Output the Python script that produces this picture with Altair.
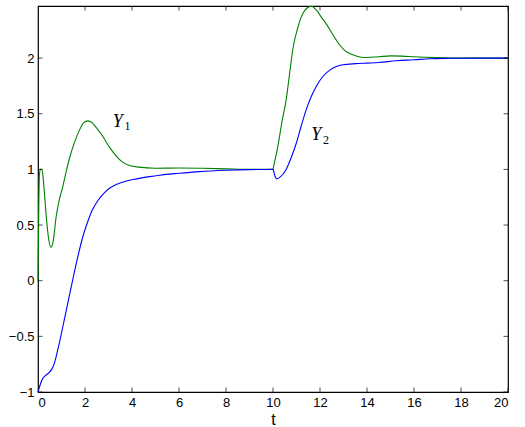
import altair as alt
import pandas as pd

# ---- data ----
t_y1 = [0.0, 0.03, 0.06, 0.1, 0.17, 0.25, 0.35, 0.45, 0.56, 0.65, 0.77, 0.9, 1.06, 1.2, 1.34,
        1.55, 1.77, 1.95, 2.12, 2.3, 2.5, 2.76, 3.04, 3.33, 3.6, 3.9, 4.3, 5.0, 6.0, 7.0, 8.0,
        9.0, 10.0, 10.02, 10.2, 10.4, 10.56, 10.7, 10.84, 11.05, 11.27, 11.45, 11.63, 11.85,
        12.05, 12.26, 12.55, 12.83, 13.1, 13.4, 13.7, 13.97, 14.5, 15.0, 15.5, 16.0, 17.0,
        18.0, 20.0]
v_y1 = [0.0, 0.6, 0.95, 1.0, 1.0, 0.85, 0.58, 0.38, 0.3, 0.36, 0.57, 0.72, 0.85, 0.98, 1.1,
        1.24, 1.355, 1.42, 1.436, 1.42, 1.37, 1.295, 1.2, 1.12, 1.065, 1.035, 1.02, 1.01, 1.012,
        1.01, 1.005, 1.0, 1.0, 1.02, 1.2, 1.45, 1.625, 1.85, 2.075, 2.27, 2.4, 2.45, 2.466,
        2.43, 2.37, 2.31, 2.21, 2.12, 2.06, 2.03, 2.01, 2.005, 2.012, 2.02, 2.018, 2.012,
        2.004, 2.0, 2.0]

t_y2 = [0.0, 0.1, 0.2, 0.3, 0.45, 0.6, 0.7, 0.82, 0.95, 1.1, 1.25, 1.4, 1.55, 1.7, 1.85,
        2.0, 2.15, 2.3, 2.55, 2.8, 3.04, 3.33, 3.75, 4.2, 4.74, 5.17, 6.0, 6.87, 8.0, 9.0,
        9.6, 10.0, 10.08, 10.16, 10.3, 10.56, 10.8, 10.99, 11.2, 11.41, 11.62, 11.84, 12.1,
        12.4, 12.7, 12.97, 13.5, 14.0, 14.5, 15.24, 16.0, 16.66, 17.5, 18.5, 20.0]
v_y2 = [-1.0, -0.93, -0.88, -0.855, -0.83, -0.79, -0.74, -0.64, -0.52, -0.37, -0.22, -0.07,
        0.08, 0.22, 0.35, 0.46, 0.55, 0.63, 0.72, 0.785, 0.83, 0.865, 0.895, 0.915, 0.935,
        0.948, 0.965, 0.98, 0.992, 0.998, 0.999, 1.0, 0.94, 0.915, 0.93, 1.0, 1.12, 1.235,
        1.39, 1.535, 1.65, 1.745, 1.83, 1.89, 1.925, 1.94, 1.95, 1.955, 1.96, 1.976, 1.985,
        1.994, 1.998, 2.0, 2.0]

x_ticks = [0, 2, 4, 6, 8, 10, 12, 14, 16, 18, 20]
y_ticks = [-1, -0.5, 0, 0.5, 1, 1.5, 2]

label_main = ["Y", "Y"]
label_main_t = [3.18, 11.63]
label_main_v = [1.38, 1.265]
label_sub = ["1", "2"]
label_sub_t = [3.68, 12.13]
label_sub_v = [1.355, 1.23]

X_DOM = [0, 20]
Y_DOM = [-1, 2.468]
W, H = 470, 386
TS = 9

df = pd.concat([
    pd.DataFrame({"t": t_y1, "v": v_y1, "s": "Y1"}),
    pd.DataFrame({"t": t_y2, "v": v_y2, "s": "Y2"}),
])

xs = alt.Scale(domain=X_DOM, nice=False, zero=False)
ys = alt.Scale(domain=Y_DOM, nice=False, zero=False)

lines = alt.Chart(df).mark_line(strokeWidth=1.1, interpolate="monotone").encode(
    x=alt.X("t:Q", scale=xs,
            axis=alt.Axis(values=x_ticks, format="~g", title="t", ticks=False, domain=False,
                          grid=False, labelFont="Liberation Sans", labelFontSize=13,
                          labelColor="black", labelPadding=4, titleFont="Liberation Sans",
                          titleFontSize=16, titleFontWeight="normal", titleColor="black",
                          titleBaseline="alphabetic", titleY=32)),
    y=alt.Y("v:Q", scale=ys,
            axis=alt.Axis(values=y_ticks, format="~g", title=None, ticks=False, domain=False,
                          grid=False, labelFont="Liberation Sans", labelFontSize=13,
                          labelColor="black", labelPadding=4, labelFlush=False)),
    color=alt.Color("s:N", scale=alt.Scale(domain=["Y1", "Y2"], range=["#008000", "#0000ff"]),
                    legend=None),
    order=alt.Order("t:Q"),
)

xt = pd.DataFrame({"x": x_ticks})
yt = pd.DataFrame({"y": y_ticks})

# inward ticks: centred on the frame, outer half clipped away
bot = alt.Chart(xt).mark_tick(color="black", size=TS, thickness=1, orient="vertical",
                              clip=True).encode(
    x=alt.X("x:Q", scale=xs), y=alt.datum(Y_DOM[0]))
top = alt.Chart(xt).mark_tick(color="black", size=TS, thickness=1, orient="vertical",
                              clip=True).encode(
    x=alt.X("x:Q", scale=xs), y=alt.datum(Y_DOM[1]))
lft = alt.Chart(yt).mark_tick(color="black", size=TS, thickness=1, orient="horizontal",
                              clip=True).encode(
    y=alt.Y("y:Q", scale=ys), x=alt.datum(X_DOM[0]))
rgt = alt.Chart(yt).mark_tick(color="black", size=TS, thickness=1, orient="horizontal",
                              clip=True).encode(
    y=alt.Y("y:Q", scale=ys), x=alt.datum(X_DOM[1]))

lab_df = pd.DataFrame({"txt": label_main, "t": label_main_t, "v": label_main_v})
sub_df = pd.DataFrame({"txt": label_sub, "t": label_sub_t, "v": label_sub_v})

lab = alt.Chart(lab_df).mark_text(font="Liberation Serif", fontStyle="italic", fontSize=18,
                                  align="left", baseline="alphabetic", color="black").encode(
    x=alt.X("t:Q", scale=xs), y=alt.Y("v:Q", scale=ys), text="txt:N")
sub = alt.Chart(sub_df).mark_text(font="Liberation Serif", fontSize=12,
                                  align="left", baseline="alphabetic", color="black").encode(
    x=alt.X("t:Q", scale=xs), y=alt.Y("v:Q", scale=ys), text="txt:N")

chart = alt.layer(lines, bot, top, lft, rgt, lab, sub).properties(
    width=W, height=H,
    autosize=alt.AutoSizeParams(type="none"),
    padding={"left": 38, "top": 6, "right": 17, "bottom": 35},
    background="white",
).configure_view(stroke="black", strokeWidth=1.2)

chart.save("out.html", embed_options={"renderer": "svg", "actions": False})
